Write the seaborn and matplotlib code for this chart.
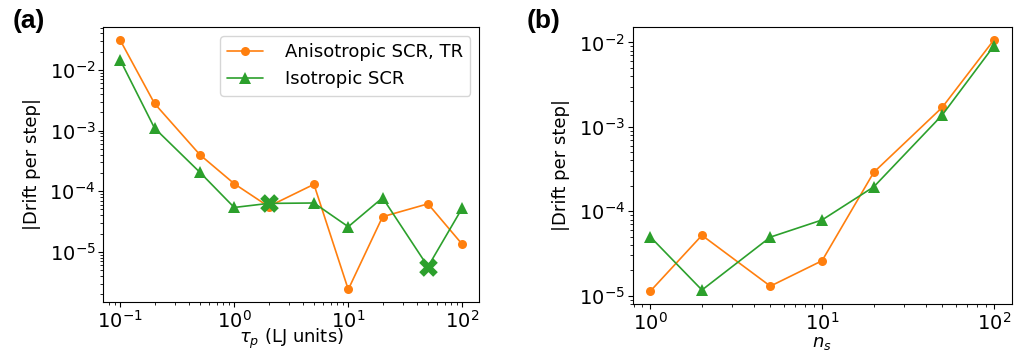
import numpy as np
import pandas as pd
import seaborn as sns
import matplotlib
matplotlib.use("Agg")
import matplotlib.pyplot as plt

# ------------------- Data -------------------
tau_p = [0.1, 0.2, 0.5, 1, 2, 5, 10, 20, 50, 100]
drift_aniso_tau = [3.1e-2, 2.8e-3, 4.0e-4, 1.33e-4, 5.6e-5, 1.3e-4, 2.4e-6, 3.8e-5, 6.2e-5, 1.33e-5]
drift_iso_tau = [1.46e-2, 1.1e-3, 2.05e-4, 5.4e-5, 6.3e-5, 6.4e-5, 2.6e-5, 7.8e-5, 5.7e-6, 5.3e-5]
# points of the isotropic series drawn with an X marker
iso_tau_x_idx = [4, 8]

n_s = [1, 2, 5, 10, 20, 50, 100]
drift_aniso_ns = [1.13e-5, 5.2e-5, 1.3e-5, 2.6e-5, 2.9e-4, 1.7e-3, 1.07e-2]
drift_iso_ns = [5.0e-5, 1.17e-5, 4.95e-5, 7.9e-5, 1.95e-4, 1.38e-3, 9.1e-3]

labels = ["Anisotropic SCR, TR", "Isotropic SCR"]
colors = ["#ff7f0e", "#2ca02c"]

# ------------------- Style -------------------
sns.set_style("ticks")
plt.rcParams['font.family'] = ['DejaVu Sans']
plt.rcParams['axes.edgecolor'] = 'black'
plt.rcParams['axes.labelcolor'] = 'black'
plt.rcParams['text.color'] = 'black'
plt.rcParams['axes.linewidth'] = 0.8
plt.rcParams['xtick.color'] = 'black'
plt.rcParams['ytick.color'] = 'black'
plt.rcParams['xtick.major.size'] = 3.5
plt.rcParams['ytick.major.size'] = 3.5
plt.rcParams['xtick.minor.size'] = 2
plt.rcParams['ytick.minor.size'] = 2
plt.rcParams['xtick.major.width'] = 0.8
plt.rcParams['ytick.major.width'] = 0.8
plt.rcParams['xtick.minor.width'] = 0.6
plt.rcParams['ytick.minor.width'] = 0.6
plt.rcParams['mathtext.fontset'] = 'dejavusans'

fig = plt.figure(figsize=(10.22, 3.51), dpi=100)
ax1 = fig.add_axes([0.101, 0.140, 0.368, 0.783])
ax2 = fig.add_axes([0.619, 0.134, 0.371, 0.789])

fs = 13
tfs = 14

# ------------------- Panel (a) -------------------
keep = [i for i in range(len(tau_p)) if i not in iso_tau_x_idx]
sns.lineplot(x=tau_p, y=drift_aniso_tau, ax=ax1, color=colors[0], marker='o',
             markersize=6.5, markeredgewidth=0, linewidth=1.2, label=labels[0])
sns.lineplot(x=tau_p, y=drift_iso_tau, ax=ax1, color=colors[1], marker='^',
             markersize=8, markeredgewidth=0, linewidth=1.2, label=labels[1],
             markevery=keep)
sns.scatterplot(x=[tau_p[i] for i in iso_tau_x_idx],
                y=[drift_iso_tau[i] for i in iso_tau_x_idx],
                ax=ax1, color=colors[1], marker='X', s=180, linewidth=0, zorder=5)
ax1.set_xscale('log')
ax1.set_yscale('log')
ax1.set_xlim(0.071, 141)
ax1.set_ylim(1.5e-6, 5.1e-2)
ax1.set_xlabel(r'$\tau_p$ (LJ units)', fontsize=fs, labelpad=-3)
ax1.set_ylabel('|Drift per step|', fontsize=fs, labelpad=6)
ax1.tick_params(labelsize=tfs, pad=2)
ax1.legend(loc='upper right', fontsize=fs, frameon=True, handlelength=2.0,
           handletextpad=1.2)

# ------------------- Panel (b) -------------------
sns.lineplot(x=n_s, y=drift_aniso_ns, ax=ax2, color=colors[0], marker='o',
             markersize=6.5, markeredgewidth=0, linewidth=1.2)
sns.lineplot(x=n_s, y=drift_iso_ns, ax=ax2, color=colors[1], marker='^',
             markersize=8, markeredgewidth=0, linewidth=1.2)
ax2.set_xscale('log')
ax2.set_yscale('log')
ax2.set_xlim(0.79, 127)
ax2.set_ylim(8.0e-6, 1.52e-2)
ax2.set_xlabel(r'$n_s$', fontsize=fs, labelpad=0)
ax2.set_ylabel('|Drift per step|', fontsize=fs, labelpad=6)
ax2.tick_params(labelsize=tfs, pad=2)

fig.text(0.012, 0.975, '(a)', fontsize=19, fontweight='bold',
         family=['Liberation Sans'], va='top')
fig.text(0.515, 0.975, '(b)', fontsize=19, fontweight='bold',
         family=['Liberation Sans'], va='top')

fig.savefig('out.png', dpi=100)
